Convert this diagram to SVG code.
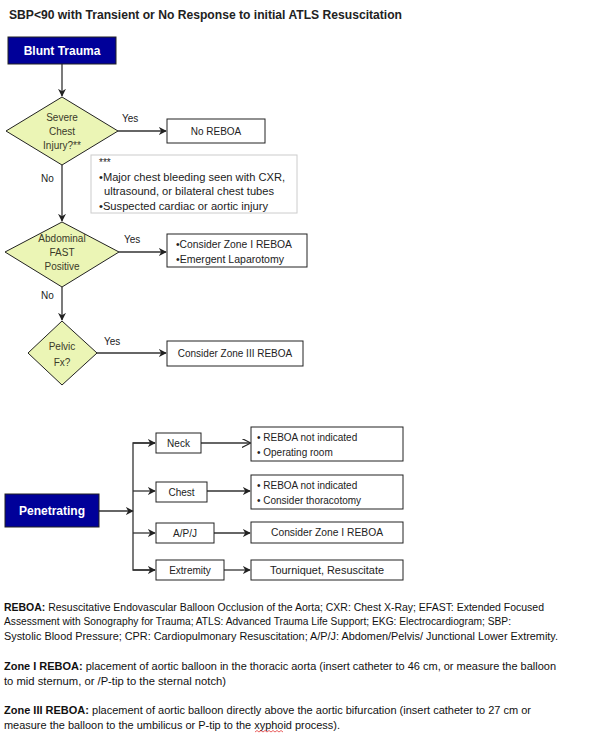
<svg xmlns="http://www.w3.org/2000/svg" width="594" height="753" viewBox="0 0 594 753">
<style>
text{font-family:"Liberation Sans",Arial,sans-serif;fill:#222}
.t{font-size:10px}
.t11{font-size:11px}
.c{text-anchor:middle}
.dt{font-size:10px;fill:#3a3a2a;text-anchor:middle}
.box{fill:#fff;stroke:#222;stroke-width:1}
.blue{fill:#000099;stroke:#222;stroke-width:1}
.wt{fill:#fff;font-weight:bold;font-size:12px;text-anchor:middle}
.dia{fill:#ebf5b5;stroke:#222;stroke-width:1}
.ln{fill:none;stroke:#333;stroke-width:1.3}
.foot{font-size:10px;fill:#111}
</style>
<defs>
<marker id="ah" viewBox="0 0 10 10" refX="9" refY="5" markerWidth="8" markerHeight="8" markerUnits="userSpaceOnUse" orient="auto">
<path d="M0,0 L10,5 L0,10 L3,5 z" fill="#222"/>
</marker>
<marker id="ao" viewBox="0 0 10 10" refX="9" refY="5" markerWidth="9" markerHeight="9" markerUnits="userSpaceOnUse" orient="auto">
<path d="M0,0 L10,5 L0,10" fill="none" stroke="#222" stroke-width="1.3"/>
</marker>
</defs>
<rect width="594" height="753" fill="#fff"/>
<text x="9" y="19" font-size="12" font-weight="bold" fill="#111" textLength="393" lengthAdjust="spacingAndGlyphs">SBP&lt;90 with Transient or No Response to initial ATLS Resuscitation</text>

<g id="connectors">
<line class="ln" x1="62" y1="64" x2="62" y2="96" marker-end="url(#ah)"/>
<line class="ln" x1="118" y1="131" x2="166" y2="131" marker-end="url(#ah)"/>
<line class="ln" x1="62" y1="165" x2="62" y2="221" marker-end="url(#ah)"/>
<line class="ln" x1="119" y1="252" x2="166" y2="252" marker-end="url(#ah)"/>
<line class="ln" x1="62" y1="287" x2="62" y2="320" marker-end="url(#ah)"/>
<line class="ln" x1="97" y1="353" x2="166" y2="353" marker-end="url(#ah)"/>
<line class="ln" x1="99" y1="511" x2="133" y2="511" marker-end="url(#ah)"/>
<polyline class="ln" points="155,443 133,443 133,570 155,570"/>
<line class="ln" x1="133" y1="443" x2="155" y2="443" marker-end="url(#ah)"/>
<line class="ln" x1="133" y1="491" x2="155" y2="491" marker-end="url(#ah)"/>
<line class="ln" x1="133" y1="533" x2="155" y2="533" marker-end="url(#ah)"/>
<line class="ln" x1="133" y1="570" x2="155" y2="570" marker-end="url(#ah)"/>
<line class="ln" x1="201" y1="443" x2="250" y2="443" marker-end="url(#ao)"/>
<line class="ln" x1="207" y1="491" x2="250" y2="491" marker-end="url(#ah)"/>
<line class="ln" x1="214" y1="533" x2="250" y2="533" marker-end="url(#ah)"/>
<line class="ln" x1="224" y1="570" x2="250" y2="570" marker-end="url(#ah)"/>
<text x="122" y="122" class="t">Yes</text>
<text x="41" y="182" class="t">No</text>
<text x="124" y="243" class="t">Yes</text>
<text x="41" y="299" class="t">No</text>
<text x="104" y="345" class="t">Yes</text>
</g>

<g id="blunt">
<rect class="blue" x="8" y="37" width="108" height="27"/>
<text class="wt" x="62" y="55">Blunt Trauma</text>
</g>

<g id="chest-q">
<polygon class="dia" points="62,97 118,131 62,165 6,131"/>
<text class="dt" x="62" y="121">Severe</text>
<text class="dt" x="62" y="135">Chest</text>
<text class="dt" x="62" y="149">Injury?**</text>
</g>

<g id="no-reboa">
<rect class="box" x="167" y="119" width="98" height="24"/>
<text class="t c" x="216" y="135">No REBOA</text>
</g>

<g id="note">
<rect x="91" y="155" width="206" height="58" fill="#fff" stroke="#ccc" stroke-width="1"/>
<text class="t" x="99" y="166">***</text>
<text class="t" x="99" y="181" textLength="186" lengthAdjust="spacingAndGlyphs">•Major chest bleeding seen with CXR,</text>
<text class="t" x="104" y="195" textLength="170" lengthAdjust="spacingAndGlyphs">ultrasound, or bilateral chest tubes</text>
<text class="t" x="99" y="210" textLength="169" lengthAdjust="spacingAndGlyphs">•Suspected cardiac or aortic injury</text>
</g>

<g id="fast-q">
<polygon class="dia" points="62,222 119,252 62,287 5,252"/>
<text class="dt" x="62" y="242">Abdominal</text>
<text class="dt" x="62" y="256">FAST</text>
<text class="dt" x="62" y="270">Positive</text>
</g>

<g id="zone1-lap">
<rect class="box" x="167" y="234" width="140" height="33"/>
<text class="t11" x="176" y="248" textLength="116" lengthAdjust="spacingAndGlyphs">•Consider Zone I REBOA</text>
<text class="t11" x="176" y="263" textLength="108" lengthAdjust="spacingAndGlyphs">•Emergent Laparotomy</text>
</g>

<g id="pelvic-q">
<polygon class="dia" points="62,321 97,353 62,385 28,353"/>
<text class="dt" x="62" y="350">Pelvic</text>
<text class="dt" x="62" y="366">Fx?</text>
</g>

<g id="zone3">
<rect class="box" x="167" y="341" width="136" height="25"/>
<text class="t c" x="235" y="357">Consider Zone III REBOA</text>
</g>

<g id="penetrating">
<rect class="blue" x="5" y="494" width="94" height="33"/>
<text class="wt" x="52" y="515">Penetrating</text>
</g>

<g id="neck">
<rect class="box" x="156" y="433" width="45" height="20"/>
<text class="t c" x="178.5" y="447">Neck</text>
</g>
<g id="chest">
<rect class="box" x="156" y="482" width="51" height="20"/>
<text class="t c" x="181.5" y="496">Chest</text>
</g>
<g id="apj">
<rect class="box" x="156" y="523" width="58" height="20"/>
<text class="t c" x="185" y="537">A/P/J</text>
</g>
<g id="extremity">
<rect class="box" x="156" y="560" width="68" height="20"/>
<text class="t c" x="190" y="574">Extremity</text>
</g>

<g id="neck-out">
<rect class="box" x="251" y="427" width="152" height="34"/>
<text class="t" x="257" y="441">• REBOA not indicated</text>
<text class="t" x="257" y="456">• Operating room</text>
</g>
<g id="chest-out">
<rect class="box" x="251" y="475" width="152" height="34"/>
<text class="t" x="257" y="489">• REBOA not indicated</text>
<text class="t" x="257" y="504">• Consider thoracotomy</text>
</g>
<g id="apj-out">
<rect class="box" x="251" y="522" width="152" height="21"/>
<text class="t c" x="327" y="536" textLength="112" lengthAdjust="spacingAndGlyphs">Consider Zone I REBOA</text>
</g>
<g id="ext-out">
<rect class="box" x="251" y="560" width="152" height="20"/>
<text class="t c" x="327" y="574" textLength="114" lengthAdjust="spacingAndGlyphs">Tourniquet, Resuscitate</text>
</g>

<g id="footer">
<text class="foot" x="4" y="611" textLength="540" lengthAdjust="spacingAndGlyphs"><tspan font-weight="bold">REBOA:</tspan> Resuscitative Endovascular Balloon Occlusion of the Aorta; CXR: Chest X-Ray; EFAST: Extended Focused</text>
<text class="foot" x="4" y="625" textLength="507" lengthAdjust="spacingAndGlyphs">Assessment with Sonography for Trauma; ATLS: Advanced Trauma Life Support; EKG: Electrocardiogram; SBP:</text>
<text class="foot" x="4" y="640" textLength="554" lengthAdjust="spacingAndGlyphs">Systolic Blood Pressure; CPR: Cardiopulmonary Resuscitation; A/P/J: Abdomen/Pelvis/ Junctional Lower Extremity.</text>
<text class="foot" x="4" y="670" textLength="552" lengthAdjust="spacingAndGlyphs"><tspan font-weight="bold">Zone I REBOA:</tspan> placement of aortic balloon in the thoracic aorta (insert catheter to 46 cm, or measure the balloon</text>
<text class="foot" x="4" y="685" textLength="222" lengthAdjust="spacingAndGlyphs">to mid sternum, or /P-tip to the sternal notch)</text>
<text class="foot" x="4" y="714" textLength="527" lengthAdjust="spacingAndGlyphs"><tspan font-weight="bold">Zone III REBOA:</tspan> placement of aortic balloon directly above the aortic bifurcation (insert catheter to 27 cm or</text>
<text class="foot" x="4" y="729" textLength="336" lengthAdjust="spacingAndGlyphs">measure the balloon to the umbilicus or P-tip to the xyphoid process).</text>
<path d="M255,732 l2,-1.5 l2,1.5 l2,-1.5 l2,1.5 l2,-1.5 l2,1.5 l2,-1.5 l2,1.5 l2,-1.5 l2,1.5 l2,-1.5 l2,1.5 l2,-1.5 l2,1.5" fill="none" stroke="#e02020" stroke-width="0.7"/>
</g>
</svg>
